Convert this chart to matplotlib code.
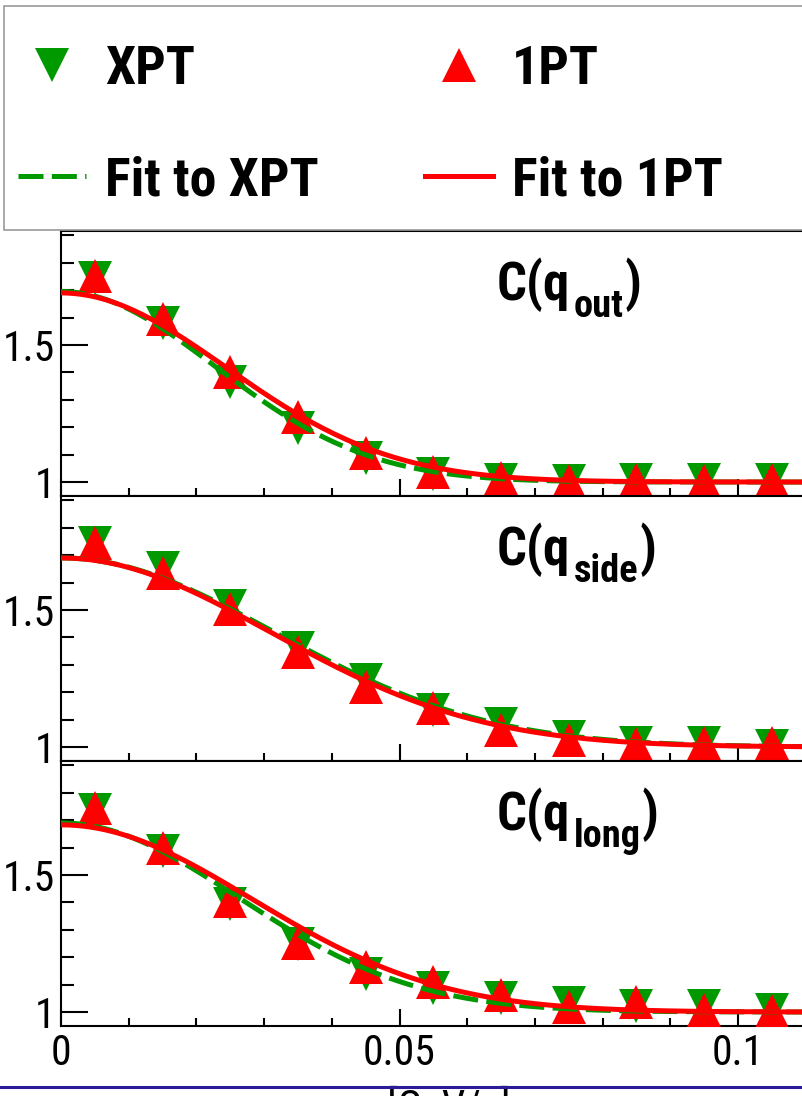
import numpy as np
import matplotlib
matplotlib.use("Agg")
import matplotlib.pyplot as plt
from matplotlib import font_manager
from matplotlib.font_manager import FontProperties
from matplotlib.lines import Line2D
from matplotlib.patches import Rectangle

# q bins (bin centres, GeV/c)
q = [0.005, 0.015, 0.025, 0.035, 0.045, 0.055, 0.065, 0.075, 0.085, 0.095, 0.105]

# correlation values
out_xpt = [1.745, 1.58, 1.365, 1.197, 1.087, 1.03, 1.008, 1.005, 1.007, 1.006, 1.007]
out_1pt = [1.752, 1.595, 1.40, 1.238, 1.105, 1.038, 1.014, 1.005, 1.006, 1.004, 1.006]
side_xpt = [1.745, 1.655, 1.515, 1.362, 1.245, 1.135, 1.084, 1.037, 1.015, 1.015, 1.004]
side_1pt = [1.745, 1.635, 1.505, 1.347, 1.219, 1.142, 1.062, 1.026, 1.011, 1.013, 1.013]
long_xpt = [1.739, 1.588, 1.396, 1.248, 1.14, 1.086, 1.052, 1.034, 1.022, 1.022, 1.007]
long_1pt = [1.746, 1.599, 1.406, 1.252, 1.165, 1.108, 1.063, 1.018, 1.036, 1.007, 1.004]

# gaussian fit parameters (lambda, R in fm) for out, side, long
lam_xpt = [0.695, 0.69, 0.69]
rad_xpt = [6.12, 4.42, 5.33]
lam_1pt = [0.69, 0.69, 0.683]
rad_1pt = [5.72, 4.50, 4.97]

names = ["out", "side", "long"]
hbarc = 0.1973


# pick a narrow font if there is one, the ROOT helvetica looks condensed
def pick_font():
    fl = font_manager.fontManager.ttflist
    have = {f.name for f in fl}
    for nm in ["Liberation Sans Narrow", "Arial Narrow", "Roboto Condensed",
               "Noto Sans Condensed", "Open Sans Condensed", "DejaVu Sans Condensed"]:
        if nm in have:
            return nm, "normal"
    for nm in ["Noto Sans", "Roboto", "Open Sans", "DejaVu Sans"]:
        for f in fl:
            if f.name == nm and f.stretch in ("condensed", "semi-condensed"):
                return nm, f.stretch
    return "Liberation Sans", "normal"


fam, stretch = pick_font()
plt.rcParams["font.family"] = [fam, "DejaVu Sans"]
plt.rcParams["font.stretch"] = stretch
plt.rcParams["lines.scale_dashes"] = False

green = "#009900"
red = "#ff0000"

W, H = 803, 1096
fig = plt.figure(figsize=(W / 100, H / 100), dpi=100)
renderer = fig.canvas.get_renderer()


def fprop(size, weight="normal"):
    return FontProperties(family=[fam, "DejaVu Sans"], stretch=stretch, weight=weight, size=size)


# font size (pt) that makes a string a given width in pixels
def fit_size(s, target, weight="normal"):
    w, h, d = renderer.get_text_width_height_descent(s, fprop(20, weight), ismath=False)
    return 20.0 * target / w


s_leg = fit_size("Fit to XPT", 213, "bold")
s_tick = fit_size("1.5", 52)
s_lab = fit_size("C(q", 73, "bold")
s_sub = fit_size("out", 50, "bold")

ys = [out_xpt, side_xpt, long_xpt]
ys1 = [out_1pt, side_1pt, long_1pt]
tops = [231, 496, 761]  # pixel rows of the panel tops
ph = 265
aw = W - 61
qq = np.linspace(0, 0.1096, 300)

axes = []
for i in range(3):
    ax = fig.add_axes([61 / W, 1 - (tops[i] + ph) / H, aw / W, ph / H])
    axes.append(ax)
    h1, = ax.plot(q, ys[i], linestyle="none", marker="v", ms=24, mew=0, color=green, zorder=2)
    h2, = ax.plot(q, ys1[i], linestyle="none", marker="^", ms=24, mew=0, color=red, zorder=3)
    f1, = ax.plot(qq, 1 + lam_xpt[i] * np.exp(-(rad_xpt[i] * qq / hbarc) ** 2),
                  color=green, lw=3.6, dashes=(18, 6), zorder=4)
    f2, = ax.plot(qq, 1 + lam_1pt[i] * np.exp(-(rad_1pt[i] * qq / hbarc) ** 2),
                  color=red, lw=3.6, zorder=5)
    if i == 0:
        handles = [h1, f1, h2, f2]

    ax.set_xlim(0, 0.1096)
    ax.set_ylim(0.949, 1.916)
    ax.set_xticks([0, 0.05, 0.1])
    ax.set_xticks(np.arange(0.01, 0.11, 0.01), minor=True)
    ax.set_yticks([1, 1.5])
    ax.set_yticks([1.1, 1.2, 1.3, 1.4, 1.6, 1.7, 1.8, 1.9], minor=True)
    ax.set_yticklabels(["1", "1.5"])
    if i == 2:
        ax.set_xticklabels(["0", "0.05", "0.1"])
    else:
        ax.set_xticklabels([])
    ax.tick_params(axis="y", which="major", direction="in", length=19.5, width=1.5,
                   labelsize=s_tick, pad=4)
    ax.tick_params(axis="y", which="minor", direction="in", length=9.5, width=1.5)
    ax.tick_params(axis="x", which="major", direction="in", length=12.5, width=1.5,
                   labelsize=s_tick, pad=5)
    ax.tick_params(axis="x", which="minor", direction="in", length=6, width=1.5)
    ax.spines["right"].set_visible(False)
    for sp in ["left", "bottom", "top"]:
        ax.spines[sp].set_linewidth(1.5)

    # panel title C(q_xxx), built from pieces so the subscript sits low like ROOT's
    yb = (ph - 69) / ph
    ys_ = (ph - 86) / ph
    ax.text((497 - 61) / aw, yb, "C(q", transform=ax.transAxes, ha="left", va="baseline",
            fontproperties=fprop(s_lab, "bold"))
    ax.text((574 - 61) / aw, ys_, names[i], transform=ax.transAxes, ha="left", va="baseline",
            fontproperties=fprop(s_sub, "bold"))
    wsub = renderer.get_text_width_height_descent(names[i], fprop(s_sub, "bold"), ismath=False)[0]
    ax.text((574 + wsub + 1 - 61) / aw, yb, ")", transform=ax.transAxes, ha="left", va="baseline",
            fontproperties=fprop(s_lab, "bold"))

# axis title, mostly cut off by the bottom edge like the original
axes[2].set_xlabel("q [GeV/c]", fontsize=s_tick)
axes[2].xaxis.set_label_coords(0.5027, -0.224)

# legend box
fig.add_artist(Rectangle((4 / W, 1 - 230 / H), 1.1, 224 / H, transform=fig.transFigure,
                         facecolor="white", edgecolor="#999999", lw=1.2, zorder=1))
fs_px = s_leg * 100 / 72
lw_, lh_, ld_ = renderer.get_text_width_height_descent("lp", fprop(s_leg, "bold"), ismath=False)
top_px = 84 - (lh_ - ld_)
fig.legend(handles, ["XPT", "Fit to XPT", "1PT", "Fit to 1PT"], ncol=2, loc="upper left",
           bbox_to_anchor=(18 / W, 1 - top_px / H), frameon=False, numpoints=1,
           handlelength=68 / fs_px, handletextpad=19 / fs_px, columnspacing=106 / fs_px,
           labelspacing=(111 - lh_) / fs_px, borderpad=0, borderaxespad=0,
           prop=fprop(s_leg, "bold"))

# blue line near the bottom edge
fig.add_artist(Line2D([0, 1], [1 - 1087 / H, 1 - 1087 / H], transform=fig.transFigure,
                      color="#2c1b98", lw=2.2, zorder=10))

fig.savefig("out.png", dpi=100)
